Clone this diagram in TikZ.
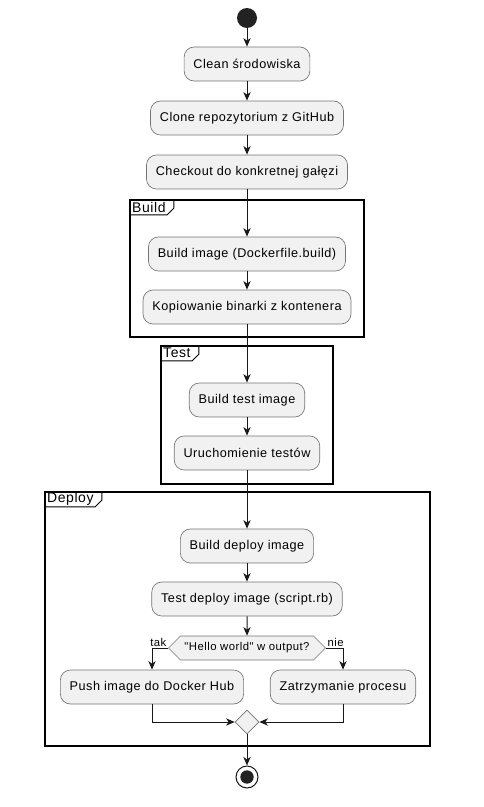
\documentclass[tikz,border=0pt]{standalone}
\usepackage{fontspec}
\setmainfont{Liberation Sans}
\newfontfamily\umlfont[LetterSpace=4]{Liberation Sans}
\usepackage{tikz}
\usetikzlibrary{arrows.meta,positioning,calc,shapes.geometric,shapes.symbols}
\definecolor{umlFill}{HTML}{F1F1F1}
\definecolor{umlLine}{HTML}{181818}
\definecolor{umlDot}{HTML}{222222}
\tikzset{
  arr/.style={-{Stealth[length=6.5pt,width=5.5pt,inset=2pt]}, line width=0.75pt, draw=umlLine},
  actbox/.style={rounded corners=7.5pt, draw=umlLine!60, fill=umlFill, line width=0.5pt, align=center, minimum height=25.5pt, inner xsep=7pt, font=\umlfont\fontsize{9.5}{11}\selectfont},
  choice/.style={signal, signal to=east and west, signal pointer angle=90, draw=umlLine!60, fill=umlFill, line width=0.5pt, minimum height=18pt, inner xsep=3pt, inner ysep=1pt, font=\umlfont\fontsize{8.5}{10}\selectfont},
  merge/.style={diamond, draw=umlLine!60, fill=umlFill, line width=0.5pt, minimum size=18pt, inner sep=0pt},
  frame/.style={draw=black, line width=1.1pt, fill=none, inner sep=0pt},
  tab/.style={anchor=north west, inner xsep=2pt, inner ysep=0pt, minimum height=11.25pt, font=\umlfont\fontsize{10.5}{12}\selectfont},
  guard/.style={font=\umlfont\fontsize{8.5}{10}\selectfont, inner sep=1pt}
}

\begin{document}
\begin{tikzpicture}[x=0.75pt,y=-0.75pt]
  \useasboundingbox (0,0) rectangle (483,807);
  % frames
  \node[frame, minimum width=175.5pt, minimum height=102.75pt] (fbuild) at (247,268.5) {};
  \node[frame, minimum width=129pt, minimum height=103.5pt] (ftest) at (247,415) {};
  \node[frame, minimum width=288.75pt, minimum height=190.5pt] (fdeploy) at (237.5,619) {};
  \node[tab] (tbuild) at (fbuild.north west) {Build};
  \node[tab] (ttest) at (ftest.north west) {Test};
  \node[tab] (tdeploy) at (fdeploy.north west) {Deploy};
  \foreach \t in {tbuild,ttest,tdeploy}
    \draw[line width=0.75pt] (\t.south west) -- ([xshift=-1pt]\t.south east) -- ([xshift=4pt,yshift=5pt]\t.south east) -- ([xshift=4pt]\t.north east);
  % nodes
  \node[circle, fill=umlDot, minimum size=15pt, inner sep=0pt] (start) at (247,18) {};
  \node[actbox] (clean) at (247,64) {Clean środowiska};
  \node[actbox] (clone) at (247,118) {Clone repozytorium z GitHub};
  \node[actbox] (checkout) at (247,172) {Checkout do konkretnej gałęzi};
  \node[actbox] (bimg) at (247,254) {Build image (Dockerfile.build)};
  \node[actbox] (kopia) at (247,307) {Kopiowanie binarki z kontenera};
  \node[actbox] (timg) at (247,400) {Build test image};
  \node[actbox] (testy) at (247,453) {Uruchomienie testów};
  \node[actbox] (dimg) at (247,546) {Build deploy image};
  \node[actbox] (dtest) at (247,599) {Test deploy image (script.rb)};
  \node[choice] (hello) at (247,648) {"Hello world" w output?};
  \node[actbox] (push) at (152,687) {Push image do Docker Hub};
  \node[actbox] (halt) at (343,687) {Zatrzymanie procesu};
  \node[merge] (join) at (247,722) {};
  \node[circle, draw=umlLine, line width=0.75pt, fill=white, minimum size=16.5pt, inner sep=0pt] (stop) at (247,777) {};
  \node[circle, fill=umlDot, minimum size=10pt, inner sep=0pt] (stopdot) at (stop.center) {};
  % connectors
  \draw[arr] (start) -- (clean);
  \draw[arr] (clean) -- (clone);
  \draw[arr] (clone) -- (checkout);
  \draw[arr] (checkout) -- (bimg);
  \draw[arr] (bimg) -- (kopia);
  \draw[arr] (kopia) -- (timg);
  \draw[arr] (timg) -- (testy);
  \draw[arr] (testy) -- (dimg);
  \draw[arr] (dimg) -- (dtest);
  \draw[arr] (dtest) -- (hello);
  \draw[arr] (hello.west) -| (push.north);
  \draw[arr] (hello.east) -| (halt.north);
  \node[guard, above left] at (hello.west) {tak};
  \node[guard, above right] at (hello.east) {nie};
  \draw[arr] (push.south) |- (join.west);
  \draw[arr] (halt.south) |- (join.east);
  \draw[arr] (join) -- (stop);
\end{tikzpicture}
\end{document}
